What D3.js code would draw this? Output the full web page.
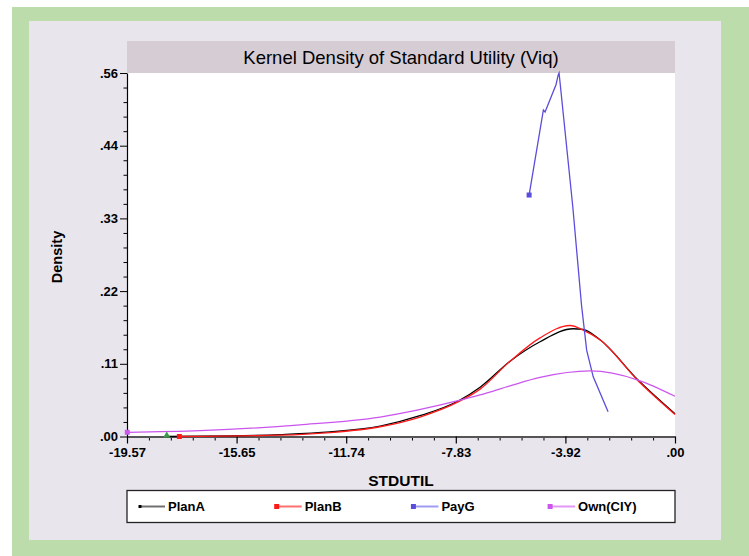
<!DOCTYPE html>
<meta charset="utf-8">
<style>
body { margin: 0; background: #fff; }
svg, svg text { font-family: "Liberation Sans", Arial, sans-serif; }
</style>
<body>
<script src="https://d3js.org/d3.v7.min.js"></script>
<script>
// chart values
var xTickValues = [-19.57, -15.656, -11.742, -7.828, -3.914, 0];
var xTickLabels = ["-19.57", "-15.65", "-11.74", "-7.83", "-3.92", ".00"];
var yTickValues = [0, 0.112, 0.224, 0.336, 0.448, 0.56];
var yTickLabels = [".00", ".11", ".22", ".33", ".44", ".56"];

var seriesNames = ["PlanA", "PlanB", "PayG", "Own(CIY)"];

var planAX = [-18.15, -15.89, -14.11, -12.32, -10.53, -9.11, -7.71, -6.96, -5.89, -4.82, -3.64, -3.28, -2.68, -1.32, 0];
var planAY = [0, 0.001, 0.003, 0.007, 0.016, 0.032, 0.0555, 0.076, 0.116, 0.146, 0.166, 0.165, 0.149, 0.087, 0.035];

var planBX = [-17.70, -14.11, -12.32, -10.53, -9.11, -7.71, -6.96, -5.89, -4.82, -3.75, -3.28, -2.68, -1.32, 0];
var planBY = [0, 0.002, 0.006, 0.015, 0.030, 0.054, 0.073, 0.116, 0.152, 0.171, 0.164, 0.149, 0.086, 0.034];

var payGX = [-5.21, -4.70, -4.64, -4.25, -4.17, -4.14, -3.65, -3.34, -3.155, -2.92, -2.39];
var payGY = [0.372, 0.503, 0.500, 0.542, 0.557, 0.560, 0.354, 0.203, 0.133, 0.092, 0.038];

var ownX = [-19.56, -16.96, -13.39, -10.53, -7.71, -6.96, -5.89, -4.82, -3.03, -1.32, 0];
var ownY = [0.0065, 0.009, 0.018, 0.030, 0.0555, 0.064, 0.078, 0.091, 0.101, 0.087, 0.062];

var W = 749, H = 556;
var plot = { left: 127, right: 675, top: 73, bottom: 436.5 };
var font = "'Liberation Sans', Arial, sans-serif";

var svg = d3.select("body").append("svg")
    .attr("width", W)
    .attr("height", H);

// backgrounds
svg.append("rect").attr("x", 12).attr("y", 7).attr("width", W - 12).attr("height", H - 7).attr("fill", "#bddcac");
svg.append("rect").attr("x", 29).attr("y", 21).attr("width", 692).attr("height", 519).attr("fill", "#e8e5ed");
svg.append("rect").attr("x", plot.left).attr("y", 41).attr("width", plot.right - plot.left).attr("height", plot.top - 41).attr("fill", "#d6ccd4");
svg.append("rect").attr("x", plot.left).attr("y", plot.top).attr("width", plot.right - plot.left).attr("height", plot.bottom - plot.top).attr("fill", "#fff");

svg.append("text")
    .attr("x", 401).attr("y", 64)
    .attr("text-anchor", "middle")
    .attr("font-size", 18.5)
    .text("Kernel Density of Standard Utility (Viq)");

var x = d3.scaleLinear().domain([-19.57, 0]).range([plot.left, plot.right]);
var y = d3.scaleLinear().domain([0, 0.56]).range([plot.bottom, plot.top]);

// minor ticks, five steps between labelled ones
function minors(vals) {
    var out = [];
    for (var i = 0; i < vals.length - 1; i++) {
        var step = (vals[i + 1] - vals[i]) / 5;
        for (var k = 1; k < 5; k++) out.push(vals[i] + k * step);
    }
    return out;
}

function styleTicks(g) {
    g.attr("font-family", font).attr("font-size", 13);
    g.selectAll(".tick text")
        .style("font-size", "13px")
        .style("font-weight", "bold")
        .attr("fill", "#000");
}

svg.append("g")
    .attr("transform", "translate(0," + plot.bottom + ")")
    .call(d3.axisBottom(x).tickValues(minors(xTickValues)).tickSize(4).tickSizeOuter(0).tickFormat(""))
    .call(function(g) { g.select(".domain").remove(); });

var xAxis = svg.append("g")
    .attr("transform", "translate(0," + plot.bottom + ")")
    .call(d3.axisBottom(x).tickValues(xTickValues).tickSize(7).tickSizeOuter(0).tickPadding(4)
        .tickFormat(function(d, i) { return xTickLabels[i]; }))
    .call(styleTicks);
xAxis.select(".domain").attr("stroke", "#555").attr("stroke-width", 2);
xAxis.selectAll(".tick line").attr("stroke-width", 1.2);

svg.append("g")
    .attr("transform", "translate(" + plot.left + ",0)")
    .call(d3.axisLeft(y).tickValues(minors(yTickValues)).tickSize(3.5).tickSizeOuter(0).tickFormat(""))
    .call(function(g) { g.select(".domain").remove(); });

var yAxis = svg.append("g")
    .attr("transform", "translate(" + plot.left + ",0)")
    .call(d3.axisLeft(y).tickValues(yTickValues).tickSize(7).tickSizeOuter(0).tickPadding(2)
        .tickFormat(function(d, i) { return yTickLabels[i]; }))
    .call(styleTicks);
yAxis.select(".domain").attr("stroke-width", 1.2);

svg.append("text")
    .attr("transform", "translate(62,257) rotate(-90)")
    .attr("text-anchor", "middle")
    .attr("font-size", 14.5).attr("font-weight", "bold")
    .text("Density");

svg.append("text")
    .attr("x", 401).attr("y", 486)
    .attr("text-anchor", "middle")
    .attr("font-size", 15.5).attr("font-weight", "bold")
    .text("STDUTIL");

// curves
var series = [
    { name: seriesNames[0], xs: planAX, ys: planAY, color: "#000", light: "#707070", curve: d3.curveMonotoneX },
    { name: seriesNames[1], xs: planBX, ys: planBY, color: "#ff1a1a", light: "#ff7070", curve: d3.curveMonotoneX },
    { name: seriesNames[2], xs: payGX, ys: payGY, color: "#5a4ddc", light: "#a09af0", curve: d3.curveLinear },
    { name: seriesNames[3], xs: ownX, ys: ownY, color: "#cc55ee", light: "#e396f6", curve: d3.curveMonotoneX }
];

series.forEach(function(s) {
    var pts = s.xs.map(function(v, i) { return [v, s.ys[i]]; });
    var line = d3.line()
        .x(function(d) { return x(d[0]); })
        .y(function(d) { return y(d[1]); })
        .curve(s.curve);
    svg.append("path")
        .datum(pts)
        .attr("fill", "none")
        .attr("stroke", s.color)
        .attr("stroke-width", 1.3)
        .attr("d", line);
    s.first = pts[0];
});

// start markers
svg.append("path")
    .attr("d", d3.symbol(d3.symbolTriangle, 22)())
    .attr("transform", "translate(" + x(series[0].first[0]) + "," + (y(series[0].first[1]) - 1) + ")")
    .attr("fill", "#3a9a4a");
series.slice(1).forEach(function(s) {
    svg.append("rect")
        .attr("x", x(s.first[0]) - 2.5).attr("y", y(s.first[1]) - 2.5)
        .attr("width", 5).attr("height", 5)
        .attr("fill", s.color);
});

// legend
svg.append("rect")
    .attr("x", plot.left).attr("y", 490.5)
    .attr("width", plot.right - plot.left).attr("height", 32)
    .attr("fill", "#fff").attr("stroke", "#222").attr("stroke-width", 1.3);

var lg = svg.selectAll(".lg").data(series).enter().append("g")
    .attr("class", "lg")
    .attr("transform", function(d, i) { return "translate(" + (140 + i * 136.7) + ",506.5)"; });
lg.append("line")
    .attr("x1", 0).attr("x2", 25)
    .attr("stroke", function(d) { return d.light; })
    .attr("stroke-width", 2);
lg.append("rect")
    .attr("x", function(d, i) { return i === 0 ? -1.5 : -2.5; })
    .attr("y", function(d, i) { return i === 0 ? -1.5 : -2.5; })
    .attr("width", function(d, i) { return i === 0 ? 3 : 5; })
    .attr("height", function(d, i) { return i === 0 ? 3 : 5; })
    .attr("fill", function(d) { return d.color; });
lg.append("text")
    .attr("x", 28).attr("y", 4.5)
    .attr("font-size", 13).attr("font-weight", "bold")
    .text(function(d) { return d.name; });
</script>
</body>
